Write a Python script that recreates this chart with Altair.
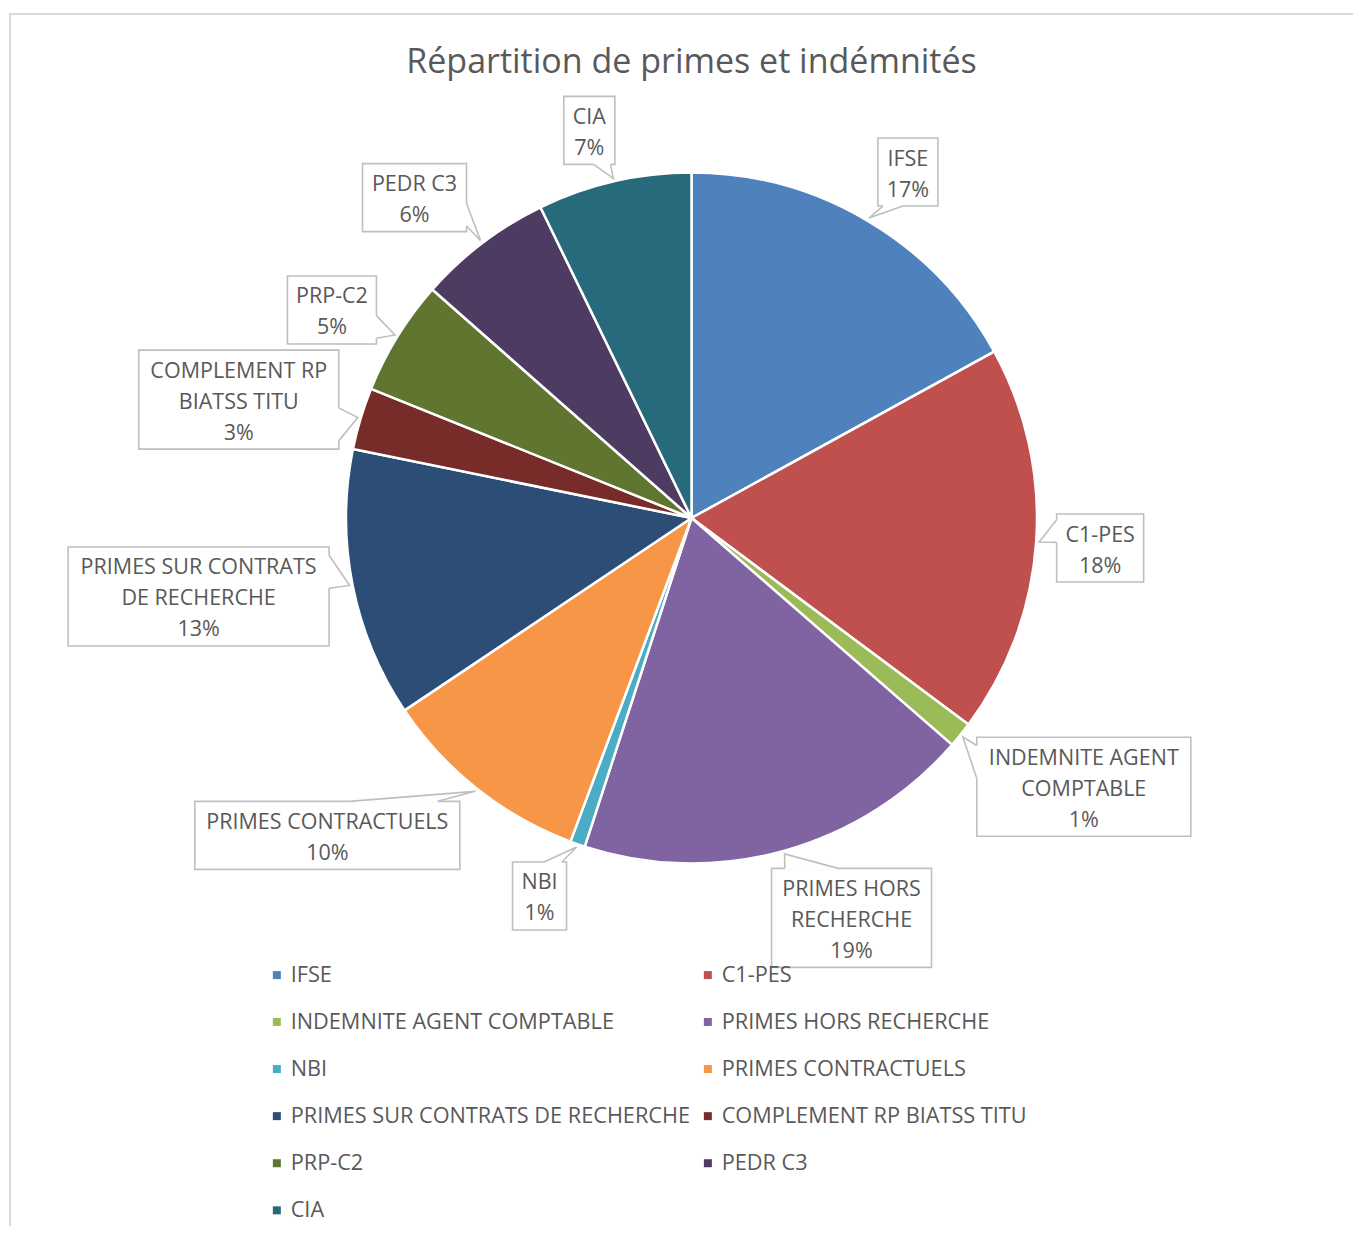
import math
import altair as alt
import pandas as pd

# ---------------- data ----------------
title = "Répartition de primes et indémnités"
categories = [
    "IFSE", "C1-PES", "INDEMNITE AGENT COMPTABLE", "PRIMES HORS RECHERCHE", "NBI",
    "PRIMES CONTRACTUELS", "PRIMES SUR CONTRATS DE RECHERCHE", "COMPLEMENT RP BIATSS TITU",
    "PRP-C2", "PEDR C3", "CIA",
]
shares = [17.0, 18.2, 1.2, 18.6, 0.7, 9.9, 12.6, 2.9, 5.4, 6.3, 7.2]
label_names = [
    "IFSE", "C1-PES", "INDEMNITE AGENT\nCOMPTABLE", "PRIMES HORS\nRECHERCHE", "NBI",
    "PRIMES CONTRACTUELS", "PRIMES SUR CONTRATS\nDE RECHERCHE", "COMPLEMENT RP\nBIATSS TITU",
    "PRP-C2", "PEDR C3", "CIA",
]
colors = ["#4F81BD", "#C0504D", "#9BBB59", "#8064A2", "#4BACC6", "#F79646",
          "#2C4D75", "#772C2A", "#5F7530", "#4D3B62", "#276A7C"]

# ---------------- layout ----------------
W, H = 1345, 1218
CX, CY, R = 683.5, 510, 345.5
TIP_R = R + 3
LINE_H = 31
# callout box: offset of box centre from pointer tip, and box width
box_layout = {
    "IFSE": (39, -46, 60),
    "C1-PES": (61, 6, 87),
    "INDEMNITE AGENT COMPTABLE": (121, 50, 214),
    "PRIMES HORS RECHERCHE": (67, 64, 160),
    "NBI": (-37, 49, 54),
    "PRIMES CONTRACTUELS": (-148, 44, 265),
    "PRIMES SUR CONTRATS DE RECHERCHE": (-151, 11, 261),
    "COMPLEMENT RP BIATSS TITU": (-119, -18, 200),
    "PRP-C2": (-63, -25, 89),
    "PEDR C3": (-66, -43, 104),
    "CIA": (-24, -48, 51),
}
TEXT = "#595959"
BOX = "#BFBFBF"
FONT = "Open Sans"

# ---------------- tables ----------------
pie = pd.DataFrame({"cat": categories, "val": shares, "idx": list(range(len(categories)))})

total = sum(shares)
rows, ptr, gaps = [], [], []
cum = 0.0
for cat, v, name in zip(categories, shares, label_names):
    mid = (cum + v / 2) / total * 2 * math.pi
    cum += v
    tx = CX + TIP_R * math.sin(mid)
    ty = CY - TIP_R * math.cos(mid)
    dx, dy, bw = box_layout[cat]
    nlines = name.count("\n") + 2
    bh = LINE_H * nlines + 6
    bx, by = tx + dx, ty + dy
    left, right, top, bottom = bx - bw / 2, bx + bw / 2, by - bh / 2, by + bh / 2
    ndx, ndy = (tx - bx) / bw, (ty - by) / bh
    if abs(ndy) >= abs(ndx):
        ey = top if ndy < 0 else bottom
        if tx < bx:
            b1, b2 = (left + bw / 12, ey), (left + 5 * bw / 12, ey)
        else:
            b1, b2 = (left + 7 * bw / 12, ey), (left + 11 * bw / 12, ey)
    else:
        ex = left if ndx < 0 else right
        if ty < by:
            b1, b2 = (ex, top + bh / 12), (ex, top + 5 * bh / 12)
        else:
            b1, b2 = (ex, top + 7 * bh / 12), (ex, top + 11 * bh / 12)
    rows.append({"cat": cat, "text": f"{name}\n{round(v / total * 100):.0f}%",
                 "bx": bx, "ty": by - (nlines - 1) * LINE_H / 2 + 3,
                 "x1": left, "x2": right, "y1": top, "y2": bottom})
    for k, (px, py) in enumerate([b1, (tx, ty), b2]):
        ptr.append({"cat": cat, "ord": k, "px": px, "py": py})
    gaps.append({"cat": cat, "gx1": b1[0], "gy1": b1[1], "gx2": b2[0], "gy2": b2[1]})

labels = pd.DataFrame(rows)
pointers = pd.DataFrame(ptr)
gapdf = pd.DataFrame(gaps)

xs = alt.Scale(domain=[0, W], nice=False, zero=False)
ys = alt.Scale(domain=[0, H], nice=False, zero=False, reverse=True)

border = alt.Chart(pd.DataFrame({"a": [2], "b": [W + 30], "c": [6], "d": [H + 30]})).mark_rect(
    fill="white", stroke="#D9D9D9", strokeWidth=2
).encode(
    x=alt.X("a:Q", scale=xs, axis=None), x2="b:Q",
    y=alt.Y("c:Q", scale=ys, axis=None), y2="d:Q",
)

arcs = alt.Chart(pie).mark_arc(outerRadius=R, stroke="white", strokeWidth=2.5).encode(
    theta=alt.Theta("val:Q", stack=True),
    color=alt.Color(
        "cat:N",
        scale=alt.Scale(domain=categories, range=colors),
        legend=alt.Legend(
            title=None, orient="none", legendX=258, legendY=956, columns=2,
            direction="horizontal",
            symbolType="square", symbolSize=64, symbolStrokeWidth=0,
            labelFont=FONT, labelFontSize=21.7, labelColor=TEXT, labelLimit=800,
            labelOffset=3, rowPadding=24.1, columnPadding=6, padding=0,
        ),
    ),
    order=alt.Order("idx:Q"),
    x=alt.value(CX), y=alt.value(CY),
)

boxes = alt.Chart(labels).mark_rect(fill="white", stroke=BOX, strokeWidth=1.6).encode(
    x=alt.X("x1:Q", scale=xs, axis=None), x2="x2:Q",
    y=alt.Y("y1:Q", scale=ys, axis=None), y2="y2:Q",
)

gap_rules = alt.Chart(gapdf).mark_rule(color="white", strokeWidth=3).encode(
    x=alt.X("gx1:Q", scale=xs, axis=None), x2="gx2:Q",
    y=alt.Y("gy1:Q", scale=ys, axis=None), y2="gy2:Q",
)

pointer_lines = alt.Chart(pointers).mark_line(color=BOX, strokeWidth=1.6).encode(
    x=alt.X("px:Q", scale=xs, axis=None),
    y=alt.Y("py:Q", scale=ys, axis=None),
    detail="cat:N",
    order="ord:Q",
)

texts = alt.Chart(labels).mark_text(
    font=FONT, fontSize=21.5, color=TEXT, align="center", baseline="middle",
    lineBreak="\n", lineHeight=LINE_H,
).encode(
    x=alt.X("bx:Q", scale=xs, axis=None),
    y=alt.Y("ty:Q", scale=ys, axis=None),
    text="text:N",
)

title_mark = alt.Chart(pd.DataFrame({"t": [title]})).mark_text(
    font=FONT, fontSize=34, color=TEXT, align="center", baseline="middle"
).encode(x=alt.value(683.5), y=alt.value(55), text="t:N")

chart = alt.layer(border, arcs, boxes, gap_rules, pointer_lines, texts, title_mark).properties(
    width=W, height=H, padding=0, autosize=alt.AutoSizeParams(type="none")
).configure_view(strokeWidth=0)

chart.save("out.html", embed_options={"renderer": "svg", "actions": False})
